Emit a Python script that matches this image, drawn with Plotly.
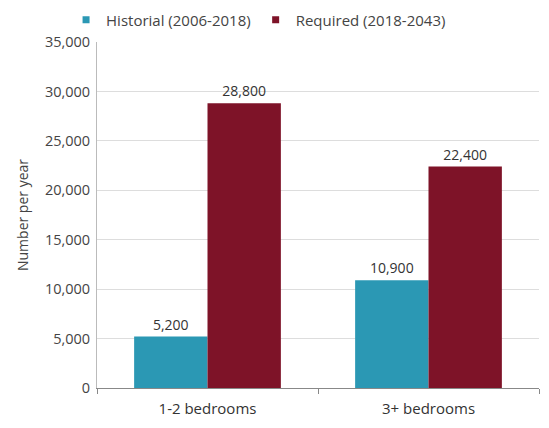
import plotly.graph_objects as go

categories = ["1-2 bedrooms", "3+ bedrooms"]
historical = [5200, 10900]
required = [28800, 22400]
series_names = ["Historial (2006-2018)", "Required (2018-2043)"]

teal = "#2B98B4"
maroon = "#7E1328"

fig = go.Figure()
for name, vals, col in [(series_names[0], historical, teal), (series_names[1], required, maroon)]:
    fig.add_trace(go.Bar(
        x=categories, y=vals, name=name, showlegend=False, legendgroup=name,
        marker=dict(color=col, line=dict(width=0)),
        text=[f"{v:,}" for v in vals], textposition="outside",
        textfont=dict(size=14, color="#333333"), cliponaxis=False,
    ))
# legend entries with small square swatches
for name, col in [(series_names[0], teal), (series_names[1], maroon)]:
    fig.add_trace(go.Scatter(
        x=[None], y=[None], mode="markers", name=name, legendgroup=name,
        marker=dict(symbol="square", size=7, color=col),
    ))

# page body has an 8px default margin, so the figure is sized to fit the window
fig.update_layout(
    width=541, height=420,
    margin=dict(l=89, r=10, t=34, b=40, autoexpand=False),
    paper_bgcolor="white", plot_bgcolor="white",
    font=dict(family="Open Sans", size=14, color="#444444"),
    barmode="group", bargap=0.336, bargroupgap=0,
    showlegend=True,
    legend=dict(orientation="h", x=-0.07, xanchor="left", y=1.016, yanchor="bottom",
                font=dict(size=15, color="#444444"), itemwidth=30,
                tracegroupgap=0, traceorder="normal"),
)
fig.update_xaxes(
    showline=True, linecolor="#888888", linewidth=1,
    ticks="outside", tickson="boundaries", ticklen=5, tickcolor="#888888",
    ticklabelstandoff=7,
    showgrid=False, tickfont=dict(size=15, color="#333333"), automargin=False,
)
fig.update_yaxes(
    range=[0, 35000], dtick=5000, tickformat=",",
    showline=True, linecolor="#bbbbbb", linewidth=1,
    showgrid=True, gridcolor="#dddddd", gridwidth=1,
    zeroline=False, ticks="", ticklabelstandoff=3,
    tickfont=dict(size=14.5, color="#444444"), automargin=False,
    title=dict(text="Number per year", font=dict(size=14, color="#444444"), standoff=12),
)
fig.write_html("out.html")
